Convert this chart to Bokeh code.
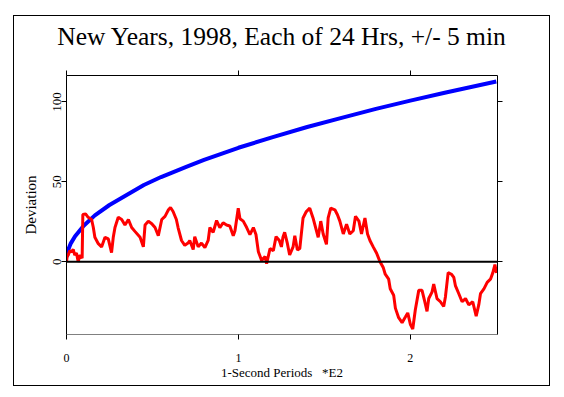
from bokeh.plotting import figure
from bokeh.models import Range1d, FixedTicker, LinearAxis, Span, CustomLabelingPolicy
from bokeh.embed import file_html
from bokeh.resources import INLINE

# Envelope (blue)
env_x = [0.002, 0.01, 0.025, 0.05, 0.1, 0.165, 0.25, 0.33, 0.45, 0.55, 0.7, 0.8,
         1.0, 1.2, 1.4, 1.6, 1.8, 2.0, 2.2, 2.4, 2.5]
env_y = [3.0, 7.5, 11.5, 16.0, 22.5, 29.0, 35.5, 40.5, 48.0, 53.0, 59.5, 63.7,
         71.3, 78.0, 84.3, 90.0, 95.6, 100.8, 105.7, 110.4, 112.7]

# Cumulative deviation (red)
dev_x = [0.0, 0.004, 0.010, 0.019, 0.029, 0.039, 0.048, 0.058, 0.068, 0.078, 0.091,
         0.095, 0.111, 0.126, 0.146, 0.156, 0.165, 0.185, 0.204, 0.224, 0.243, 0.262,
         0.272, 0.282, 0.301, 0.321, 0.340, 0.360, 0.379, 0.398, 0.428, 0.447, 0.457,
         0.476, 0.496, 0.515, 0.534, 0.554, 0.573, 0.593, 0.605, 0.620, 0.639, 0.649,
         0.669, 0.688, 0.707, 0.717, 0.737, 0.746, 0.766, 0.785, 0.805, 0.824, 0.834,
         0.853, 0.873, 0.892, 0.911, 0.931, 0.950, 0.970, 0.980, 0.999, 1.009, 1.028,
         1.048, 1.067, 1.087, 1.102, 1.116, 1.135, 1.155, 1.164, 1.184, 1.203, 1.219,
         1.238, 1.250, 1.259, 1.269, 1.285, 1.298, 1.318, 1.328, 1.343, 1.357, 1.366,
         1.376, 1.395, 1.415, 1.434, 1.444, 1.464, 1.479, 1.493, 1.512, 1.522, 1.537,
         1.561, 1.576, 1.590, 1.610, 1.629, 1.648, 1.668, 1.681, 1.701, 1.716, 1.736,
         1.751, 1.765, 1.784, 1.804, 1.823, 1.843, 1.854, 1.874, 1.883, 1.903, 1.913,
         1.932, 1.952, 1.971, 1.985, 2.000, 2.014, 2.029, 2.049, 2.068, 2.084, 2.097,
         2.107, 2.126, 2.136, 2.155, 2.175, 2.194, 2.204, 2.220, 2.239, 2.253, 2.262,
         2.282, 2.301, 2.321, 2.340, 2.363, 2.383, 2.398, 2.408, 2.428, 2.447, 2.466,
         2.480, 2.492, 2.501]
dev_y = [0.0, 3.4, 4.2, 6.9, 6.1, 7.7, 4.2, 5.4, 0.0, 4.2, 2.2,
         29.6, 29.9, 27.8, 26.4, 21.4, 15.3, 11.3, 9.3, 15.3, 14.3, 5.7,
         15.3, 21.4, 27.8, 26.4, 23.0, 26.4, 21.4, 19.0, 15.3, 9.3, 23.0,
         25.4, 23.8, 21.4, 16.3, 26.4, 28.4, 32.5, 33.9, 31.4, 26.4, 21.4,
         13.3, 10.3, 11.7, 13.3, 7.7, 15.7, 9.3, 11.7, 8.9, 13.3, 21.4,
         18.4, 25.8, 21.4, 24.4, 23.0, 22.4, 16.3, 19.4, 33.5, 26.9, 25.4,
         21.4, 17.0, 21.4, 17.0, 6.3, 0.8, 3.3, -1.2, 8.3, 6.9, 15.7,
         13.3, 9.3, 15.3, 18.4, 11.3, 4.2, 9.3, 16.3, 7.3, 8.3, 17.4,
         27.4, 31.4, 33.5, 27.4, 23.4, 15.3, 25.4, 17.4, 10.9, 27.4, 33.5,
         32.5, 29.4, 25.4, 17.4, 23.4, 17.4, 19.4, 28.4, 25.4, 17.4, 27.4,
         17.4, 13.3, 9.3, 5.3, 0.2, -3.8, -7.8, -10.9, -16.9, -20.9, -29.0,
         -35.0, -38.1, -34.6, -32.0, -39.1, -42.1, -30.0, -17.9, -17.9, -25.0, -31.0,
         -23.0, -19.0, -13.9, -23.0, -25.0, -28.0, -22.0, -6.8, -7.8, -9.8, -14.9,
         -20.0, -25.0, -23.0, -27.0, -25.0, -34.0, -27.0, -20.0, -17.0, -12.9, -10.9,
         -6.8, -1.8, -7.0]

x_ticks = [0, 1, 2]
y_ticks = [0, 50, 100]
title_text = "New Years, 1998, Each of 24 Hrs, +/- 5 min"
x_label = "1-Second Periods\u00a0\u00a0\u00a0*E2"
y_label = "Deviation"

FONT = "Liberation Serif"

p = figure(width=537, height=371, output_backend="svg", toolbar_location=None,
           x_range=Range1d(0, 2.507), y_range=Range1d(-45.5, 116.5),
           title=title_text, min_border_left=52, min_border_right=54,
           min_border_top=49, min_border_bottom=53)
p.margin = (15, 0, 0, 13)
p.styles = {"border": "1px solid black"}
p.grid.visible = False
p.outline_line_color = None
p.background_fill_color = "white"
p.border_fill_color = "white"

p.title.align = "center"
p.title.text_font = FONT
p.title.text_font_style = "normal"
p.title.text_font_size = "25.5px"
p.title.text_color = "black"
p.title.standoff = 7

hide_labels = CustomLabelingPolicy(code="""
for (const i of indices)
  indices.unset(i)
""")

def style_axis(ax, ticks, labels=True, line_color="black"):
    ax.ticker = FixedTicker(ticks=ticks)
    ax.minor_tick_line_color = None
    ax.major_tick_in = 0
    ax.major_tick_out = 5
    ax.major_tick_line_color = "black"
    ax.axis_line_color = line_color
    ax.major_label_text_font = FONT
    ax.major_label_text_font_size = "12px"
    ax.major_label_text_color = "black"
    if not labels:
        ax.major_label_policy = hide_labels
    ax.axis_label_text_font = FONT
    ax.axis_label_text_font_style = "normal"
    ax.axis_label_text_font_size = "13px"
    ax.axis_label_text_color = "black"

style_axis(p.xaxis[0], x_ticks, line_color="#808080")
p.xaxis[0].axis_label = x_label
p.xaxis[0].major_label_standoff = 14
p.xaxis[0].axis_label_standoff = 0

style_axis(p.yaxis[0], y_ticks)
p.yaxis[0].axis_label = y_label
p.yaxis[0].major_label_orientation = "vertical"
p.yaxis[0].major_label_text_font_size = "13px"
p.yaxis[0].major_label_standoff = 0
p.yaxis[0].axis_label_standoff = 12
p.yaxis[0].axis_label_text_font_size = "15px"

right = LinearAxis()
style_axis(right, y_ticks, labels=False)
p.add_layout(right, "right")

top = LinearAxis()
style_axis(top, x_ticks, labels=False)
p.add_layout(top, "above")

p.line(env_x, env_y, color="#0000FF", line_width=4)
p.line(dev_x, dev_y, color="#FF0000", line_width=3)
p.add_layout(Span(location=0, dimension="width", line_color="black", line_width=2))

open("out.html", "w").write(file_html(p, INLINE))
